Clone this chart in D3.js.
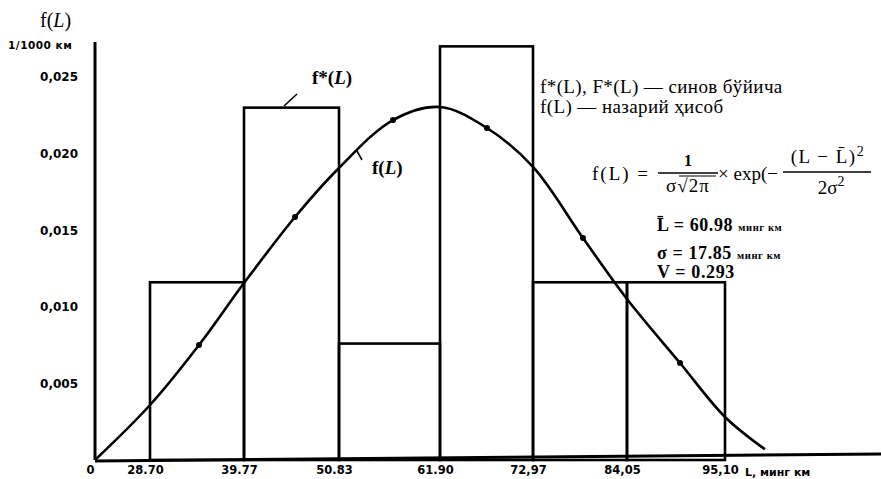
<!DOCTYPE html>
<html>
<head>
<meta charset="utf-8">
<script src="https://cdn.jsdelivr.net/npm/d3@7"></script>
<style>
    body { margin: 0; background: #fff; }
    svg { display: block; }
    .tick text { font-family: "DejaVu Sans", sans-serif; font-weight: bold; font-size: 11.5px; fill: #000; }
    .serif { font-family: "Liberation Serif", "Times New Roman", serif; fill: #000; }
</style>
</head>
<body>
<div id="chart"></div>
<script>
// bin edges along L (thousand km) and the tick labels printed under them
var edges = [0, 28.70, 39.77, 50.83, 61.90, 72.97, 84.05, 95.10];
var edgeLabels = ['0', '28.70', '39.77', '50.83', '61.90', '72,97', '84,05', '95,10'];

// empirical density f*(L), one value per bin starting at 28.70
var binStart = [28.70, 39.77, 50.83, 61.90, 72.97, 84.05];
var binEnd = [39.77, 50.83, 61.90, 72.97, 84.05, 95.10];
var binFreq = [0.0116, 0.0230, 0.0076, 0.0270, 0.0116, 0.0116];

// theoretical curve f(L)
var curveL = [0, 28.70, 34.47, 39.77, 45.71, 50.60, 56.75, 61.90, 67.49, 72.97, 78.86, 84.05, 90.03, 95.10, 99.60];
var curveF = [0, 0.00359, 0.00751, 0.01155, 0.01586, 0.01893, 0.02219, 0.02304, 0.02167, 0.01913, 0.01449, 0.01051, 0.00633, 0.00281, 0.00070];
// the little marks sitting on the curve
var markL = [34.47, 45.71, 56.75, 67.49, 78.86, 90.03];

var yTicks = [0.005, 0.010, 0.015, 0.020, 0.025];
var yTickLabels = ['0,005', '0,010', '0,015', '0,020', '0,025'];

var width = 881, height = 479;

var svg = d3.select('#chart').append('svg')
    .attr('width', width)
    .attr('height', height);

// x axis is not to scale in the original, every bin gets about the same width
var x = d3.scaleLinear()
    .domain(edges)
    .range([95, 150, 244, 339, 440, 533, 627, 725]);

var y = d3.scaleLinear()
    .domain([0, 0.025])
    .range([460, 77]);

// bars
var bins = binFreq.map(function (f, i) {
    return { x0: binStart[i], x1: binEnd[i], f: f };
});

svg.selectAll('.bin')
    .data(bins)
    .enter().append('rect')
    .attr('class', 'bin')
    .attr('x', function (d) { return x(d.x0); })
    .attr('y', function (d) { return y(d.f); })
    .attr('width', function (d) { return x(d.x1) - x(d.x0); })
    .attr('height', function (d) { return y(0) - y(d.f); })
    .style('fill', 'none')
    .style('stroke', '#000')
    .style('stroke-width', 2.6);

// axes
var xAxis = d3.axisBottom(x)
    .tickValues(edges)
    .tickFormat(function (d, i) { return edgeLabels[i]; })
    .tickSize(0)
    .tickPadding(6);

var gx = svg.append('g')
    .attr('transform', 'translate(0,' + y(0) + ')')
    .call(xAxis);
gx.select('.domain').remove();
gx.selectAll('.tick text').attr('dx', -5);

svg.append('line')
    .attr('x1', x(0)).attr('x2', width)
    .attr('y1', y(0) + 1).attr('y2', y(0) - 6)
    .style('stroke', '#000')
    .style('stroke-width', 3);

var yAxis = d3.axisLeft(y)
    .tickValues(yTicks)
    .tickFormat(function (d, i) { return yTickLabels[i]; })
    .tickSize(0)
    .tickPadding(17);

var gy = svg.append('g')
    .attr('transform', 'translate(' + x(0) + ',0)')
    .call(yAxis);
gy.select('.domain').remove();
gy.selectAll('.tick text').style('font-size', '12px');

svg.append('line')
    .attr('x1', x(0)).attr('x2', x(0))
    .attr('y1', 42).attr('y2', y(0))
    .style('stroke', '#000')
    .style('stroke-width', 3);

// axis titles
var fTitle = svg.append('text').attr('class', 'serif')
    .attr('x', 40).attr('y', 27)
    .style('font-size', '20px');
fTitle.append('tspan').text('f(');
fTitle.append('tspan').style('font-style', 'italic').text('L');
fTitle.append('tspan').text(')');

svg.append('text')
    .attr('x', 8).attr('y', 49)
    .style('font-family', 'DejaVu Sans, sans-serif')
    .style('font-weight', 'bold')
    .style('font-size', '10.5px')
    .style('letter-spacing', '0.5px')
    .text('1/1000 км');

svg.append('text')
    .attr('x', 745).attr('y', 476)
    .style('font-family', 'DejaVu Sans, sans-serif')
    .style('font-weight', 'bold')
    .style('font-size', '11px')
    .text('L, минг км');

// theoretical curve
var pts = curveL.map(function (l, i) { return [l, curveF[i]]; });

var line = d3.line()
    .x(function (d) { return x(d[0]); })
    .y(function (d) { return y(d[1]); })
    .curve(d3.curveCatmullRom.alpha(0.5));

svg.append('path')
    .datum(pts)
    .attr('d', line)
    .style('fill', 'none')
    .style('stroke', '#000')
    .style('stroke-width', 2.6);

svg.selectAll('.mark')
    .data(markL)
    .enter().append('circle')
    .attr('class', 'mark')
    .attr('cx', function (d) { return x(d); })
    .attr('cy', function (d) { return y(curveF[curveL.indexOf(d)]); })
    .attr('r', 3)
    .style('fill', '#000');

// labels on the picture
var fsLabel = svg.append('text').attr('class', 'serif')
    .attr('x', 312).attr('y', 84)
    .style('font-size', '19px')
    .style('font-weight', 'bold');
fsLabel.append('tspan').text('f*(');
fsLabel.append('tspan').style('font-style', 'italic').text('L');
fsLabel.append('tspan').text(')');

svg.append('line')
    .attr('x1', 284).attr('y1', 106)
    .attr('x2', 297).attr('y2', 94)
    .style('stroke', '#000').style('stroke-width', 1.6);

var fLabel = svg.append('text').attr('class', 'serif')
    .attr('x', 372).attr('y', 174)
    .style('font-size', '19px')
    .style('font-weight', 'bold');
fLabel.append('tspan').text('f(');
fLabel.append('tspan').style('font-style', 'italic').text('L');
fLabel.append('tspan').text(')');

svg.append('line')
    .attr('x1', 357).attr('y1', 151)
    .attr('x2', 362).attr('y2', 160)
    .style('stroke', '#000').style('stroke-width', 1.6);

// legend
svg.append('text').attr('class', 'serif')
    .attr('x', 540).attr('y', 93)
    .style('font-size', '19px')
    .style('letter-spacing', '0.4px')
    .text('f*(L), F*(L) \u2014 синов бўйича');
svg.append('text').attr('class', 'serif')
    .attr('x', 540).attr('y', 113)
    .style('font-size', '19px')
    .style('letter-spacing', '0.4px')
    .text('f(L) \u2014 назарий ҳисоб');

// formula
var fm = svg.append('g').attr('class', 'serif').style('font-size', '19px');
fm.append('text').attr('x', 592).attr('y', 180).style('letter-spacing', '2px').text('f(L) =');
fm.append('text').attr('x', 688).attr('y', 166).attr('text-anchor', 'middle').style('font-size', '16px').style('font-weight', 'bold').text('1');
fm.append('line').attr('x1', 658).attr('x2', 718).attr('y1', 173).attr('y2', 173)
    .style('stroke', '#000').style('stroke-width', 1.3);
fm.append('text').attr('x', 688).attr('y', 192).attr('text-anchor', 'middle').style('letter-spacing', '1px').text('σ√2π');
fm.append('line').attr('x1', 679).attr('x2', 716).attr('y1', 176).attr('y2', 176)
    .style('stroke', '#000').style('stroke-width', 1);
fm.append('text').attr('x', 718).attr('y', 180).text('× exp(−');
var num = fm.append('text').attr('x', 828).attr('y', 163).attr('text-anchor', 'middle').style('letter-spacing', '1.5px');
num.append('tspan').text('(L − L\u0304)');
num.append('tspan').attr('dy', -7).style('font-size', '14px').text('2');
fm.append('line').attr('x1', 783).attr('x2', 871).attr('y1', 172).attr('y2', 172)
    .style('stroke', '#000').style('stroke-width', 1.3);
var den = fm.append('text').attr('x', 831).attr('y', 194).attr('text-anchor', 'middle');
den.append('tspan').text('2σ');
den.append('tspan').attr('dy', -8).style('font-size', '14px').text('2');

// parameters
var params = [
    { y: 231, name: 'L\u0304', value: '60.98', unit: 'минг км' },
    { y: 259, name: 'σ', value: '17.85', unit: 'минг км' },
    { y: 278, name: 'V', value: '0.293', unit: '' }
];
params.forEach(function (p) {
    var t = svg.append('text').attr('class', 'serif')
        .attr('x', 657).attr('y', p.y)
        .style('font-size', '18px')
        .style('font-weight', 'bold')
        .style('letter-spacing', '0.6px');
    t.append('tspan').text(p.name + ' = ' + p.value + ' ');
    t.append('tspan').style('font-size', '10.5px').text(p.unit);
});
</script>
</body>
</html>
